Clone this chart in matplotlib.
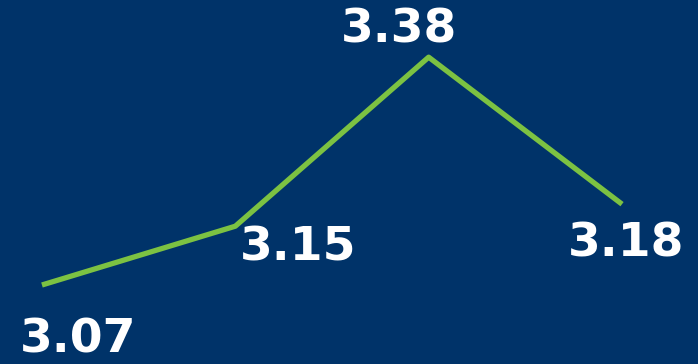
import matplotlib
matplotlib.use('Agg')
import matplotlib.pyplot as plt

# values
periods = [0, 1, 2, 3]
values = [3.07, 3.15, 3.38, 3.18]
labels = ['3.07', '3.15', '3.38', '3.18']
# label offsets from each point, in pixels (right, up)
label_offsets = [(36, -55), (63, -22), (-30, 27), (4, -40)]

bg = '#003369'
green = '#7cc242'

fig = plt.figure(figsize=(6.98, 3.64), dpi=100, facecolor=bg)
ax = fig.add_axes([0, 0, 1, 1], facecolor=bg)

ax.plot(periods, values, color=green, lw=3.8, solid_capstyle='butt')

for x, v, lab, (dx, dy) in zip(periods, values, labels, label_offsets):
    ax.annotate(lab, (x, v), xytext=(dx * 0.72, dy * 0.72), textcoords='offset points',
                ha='center', va='center', color='white', fontsize=34,
                fontweight='bold', family='DejaVu Sans')

ax.set_xlim(-0.217, 3.393)
ax.set_ylim(2.9625, 3.4578)
ax.axis('off')

fig.savefig('out.png', dpi=100, facecolor=bg)
